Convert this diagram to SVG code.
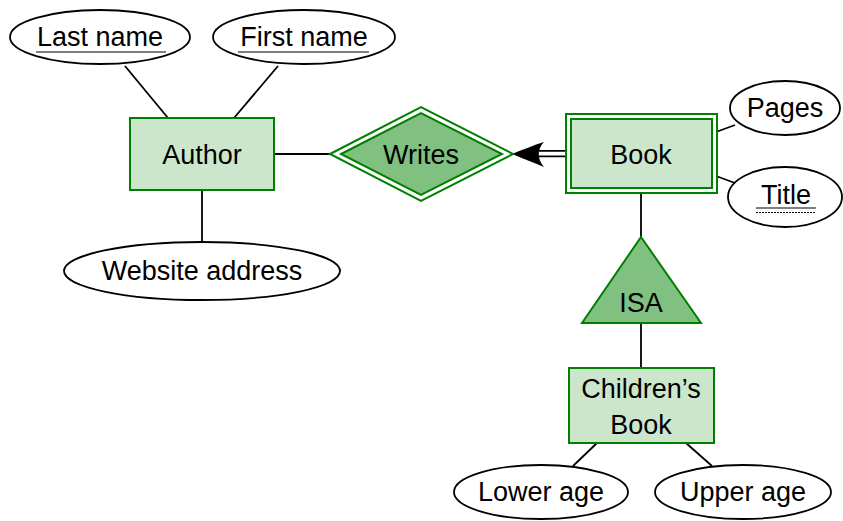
<svg xmlns="http://www.w3.org/2000/svg" width="843" height="521" viewBox="0 0 843 521">
  <style>
    .attr { fill: #ffffff; stroke: #000000; stroke-width: 1.8; }
    .ent { fill: #cce6cc; stroke: #008000; stroke-width: 2; }
    .rel { fill: #80c080; stroke: #008000; stroke-width: 2; }
    .outer { fill: #ffffff; stroke: #008000; stroke-width: 2; }
    .edge { stroke: #000000; stroke-width: 1.8; fill: none; }
    .key { stroke: #000000; stroke-width: 1.1; }
    .pkey { stroke: #000000; stroke-width: 1.1; stroke-dasharray: 2 1; }
    text { font-family: "Liberation Sans", Arial, sans-serif; font-size: 27px; fill: #000000; text-anchor: middle; }
  </style>

  <!-- connectors -->
  <g id="connectors">
    <line class="edge" x1="125" y1="66" x2="168" y2="118"/>
    <line class="edge" x1="278" y1="66" x2="234" y2="118"/>
    <line class="edge" x1="202" y1="190" x2="202" y2="242"/>
    <line class="edge" x1="274" y1="154" x2="330" y2="154"/>
    <!-- total participation double line with arrow into Writes -->
    <line class="edge" x1="528" y1="150.8" x2="566" y2="150.8"/>
    <line class="edge" x1="528" y1="156.4" x2="566" y2="156.4"/>
    <path d="M512,154 C522,150 534,145 544,142 C537,149 537,159 544,167 C534,163 522,158 512,154 Z" fill="#000000"/>
    <line class="edge" x1="716" y1="132" x2="735" y2="125"/>
    <line class="edge" x1="716" y1="176" x2="735" y2="183"/>
    <line class="edge" x1="641" y1="193" x2="641" y2="237"/>
    <line class="edge" x1="641" y1="323" x2="641" y2="368"/>
    <line class="edge" x1="597" y1="443" x2="573" y2="466"/>
    <line class="edge" x1="686" y1="443" x2="712" y2="466"/>
  </g>

  <g id="last-name">
    <ellipse class="attr" cx="100" cy="37" rx="90" ry="27"/>
    <text x="100" y="46">Last name</text>
    <line class="key" x1="36" y1="52" x2="166" y2="52"/>
  </g>

  <g id="first-name">
    <ellipse class="attr" cx="304" cy="37" rx="91" ry="27"/>
    <text x="304" y="46">First name</text>
    <line class="key" x1="238" y1="52" x2="369" y2="52"/>
  </g>

  <g id="author">
    <rect class="ent" x="130" y="118" width="144" height="72"/>
    <text x="202" y="164">Author</text>
  </g>

  <g id="website-address">
    <ellipse class="attr" cx="202" cy="271" rx="138" ry="29"/>
    <text x="202" y="280">Website address</text>
  </g>

  <g id="writes">
    <polygon class="outer" points="330,154 421,107 513,154 421,201"/>
    <polygon class="rel" points="341,154 421,113 502,154 421,195"/>
    <text x="421" y="164">Writes</text>
  </g>

  <g id="book">
    <rect class="outer" x="566" y="114" width="151" height="79"/>
    <rect class="ent" x="571" y="119" width="141" height="69"/>
    <text x="641" y="164">Book</text>
  </g>

  <g id="pages">
    <ellipse class="attr" cx="785" cy="108" rx="55" ry="27"/>
    <text x="785" y="117">Pages</text>
  </g>

  <g id="title">
    <ellipse class="attr" cx="785" cy="197" rx="57" ry="30"/>
    <text x="786" y="204">Title</text>
    <line class="key" x1="756" y1="208" x2="816" y2="208"/>
    <line class="pkey" x1="756" y1="212.5" x2="816" y2="212.5"/>
  </g>

  <g id="isa">
    <polygon class="rel" points="641,237 701,323 582,323"/>
    <text x="641" y="312">ISA</text>
  </g>

  <g id="childrens-book">
    <rect class="ent" x="569" y="368" width="145" height="75"/>
    <text x="641" y="398">Children’s</text>
    <text x="641" y="434">Book</text>
  </g>

  <g id="lower-age">
    <ellipse class="attr" cx="541" cy="492" rx="87" ry="27"/>
    <text x="541" y="501">Lower age</text>
  </g>

  <g id="upper-age">
    <ellipse class="attr" cx="743" cy="492" rx="88" ry="27"/>
    <text x="743" y="501">Upper age</text>
  </g>
</svg>
